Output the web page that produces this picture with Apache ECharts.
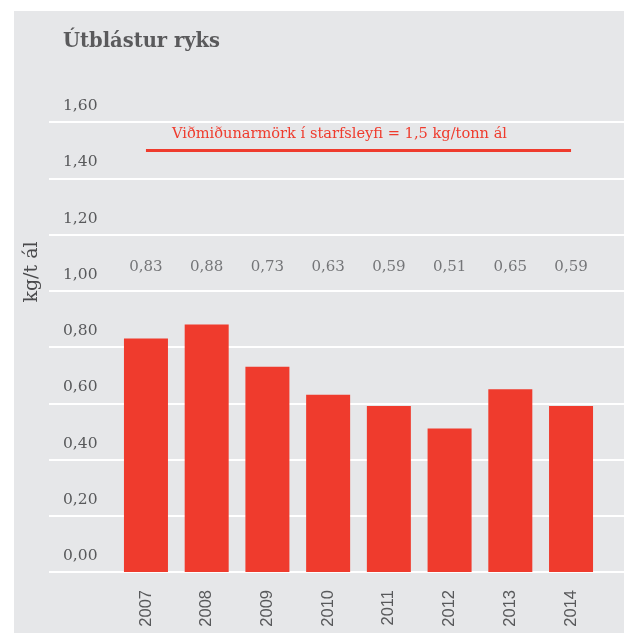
<!DOCTYPE html>
<html>
<head>
<meta charset="utf-8">
<script src="https://cdn.jsdelivr.net/npm/echarts@6/dist/echarts.min.js"></script>
<style>
  html, body { margin: 0; padding: 0; background: #fff; }
  #chart { width: 630px; height: 635px; }
</style>
</head>
<body>
<div id="chart"></div>
<script>
  const years = ['2007', '2008', '2009', '2010', '2011', '2012', '2013', '2014']
  const dust = [0.83, 0.88, 0.73, 0.63, 0.59, 0.51, 0.65, 0.59]
  const limit = 1.5
  const limitText = 'Viðmiðunarmörk í starfsleyfi = 1,5 kg/tonn ál'
  const labelRowY = 1.085

  const serif = 'DejaVu Serif'
  const grey = '#58595b'
  const red = '#ef3b2d'
  const fmt = (v) => v.toFixed(2).replace('.', ',')

  const chart = echarts.init(document.getElementById('chart'), null, { renderer: 'canvas' })

  const option = {
    backgroundColor: '#fff',
    animation: false,
    title: {
      text: 'Útblástur ryks',
      left: 63,
      top: 32,
      padding: 0,
      textStyle: { fontFamily: serif, fontSize: 19.5, fontWeight: 'bold', color: '#5a5a5c' }
    },
    graphic: [
      {
        type: 'rect',
        z: -10,
        shape: { x: 14, y: 11, width: 610, height: 622 },
        style: { fill: '#e6e7e9' }
      },
      {
        type: 'text',
        x: 32,
        y: 272,
        rotation: Math.PI / 2,
        style: {
          text: 'kg/t ál',
          fontFamily: serif,
          fontSize: 19,
          fill: '#4a4a4c',
          align: 'center',
          verticalAlign: 'middle'
        }
      }
    ],
    grid: [
      { left: 115.6, right: 28.6, top: 122, bottom: 63 },
      { left: 49, right: 6, top: 122, bottom: 63 }
    ],
    xAxis: [
      {
        type: 'category',
        gridIndex: 0,
        data: years,
        axisLine: { show: false },
        axisTick: { show: false },
        axisLabel: {
          rotate: 90,
          margin: 18,
          fontFamily: 'Liberation Sans',
          fontSize: 16.5,
          color: grey
        }
      },
      { type: 'value', gridIndex: 1, show: false }
    ],
    yAxis: [
      {
        type: 'value',
        gridIndex: 0,
        min: 0,
        max: 1.6,
        interval: 0.2,
        axisLabel: { show: false },
        axisLine: { show: false },
        axisTick: { show: false },
        splitLine: { show: false }
      },
      {
        type: 'value',
        gridIndex: 1,
        min: 0,
        max: 1.6,
        interval: 0.2,
        axisLine: { show: false },
        axisTick: { show: false },
        axisLabel: {
          inside: true,
          margin: 14,
          verticalAlign: 'bottom',
          padding: [0, 0, 8, 0],
          fontFamily: serif,
          fontSize: 15.5,
          color: grey,
          formatter: fmt
        },
        splitLine: { lineStyle: { color: '#fff', width: 2 } }
      }
    ],
    series: [
      {
        type: 'bar',
        xAxisIndex: 0,
        yAxisIndex: 0,
        data: dust,
        barWidth: 44,
        itemStyle: { color: red },
        markLine: {
          silent: true,
          symbol: 'none',
          lineStyle: { color: red, width: 3, type: 'solid' },
          label: {
            position: 'insideMiddleTop',
            distance: 8,
            padding: [0, 38, 0, 0],
            fontFamily: serif,
            fontSize: 14.6,
            color: red,
            formatter: limitText
          },
          data: [[{ coord: [0, limit] }, { coord: [years.length - 1, limit] }]]
        }
      },
      {
        type: 'scatter',
        xAxisIndex: 0,
        yAxisIndex: 0,
        symbolSize: 0,
        silent: true,
        data: dust.map((v, i) => [i, labelRowY]),
        label: {
          show: true,
          position: 'inside',
          fontFamily: serif,
          fontSize: 15,
          color: grey,
          formatter: (p) => fmt(dust[p.dataIndex])
        }
      }
    ]
  }

  chart.setOption(option)
</script>
</body>
</html>
